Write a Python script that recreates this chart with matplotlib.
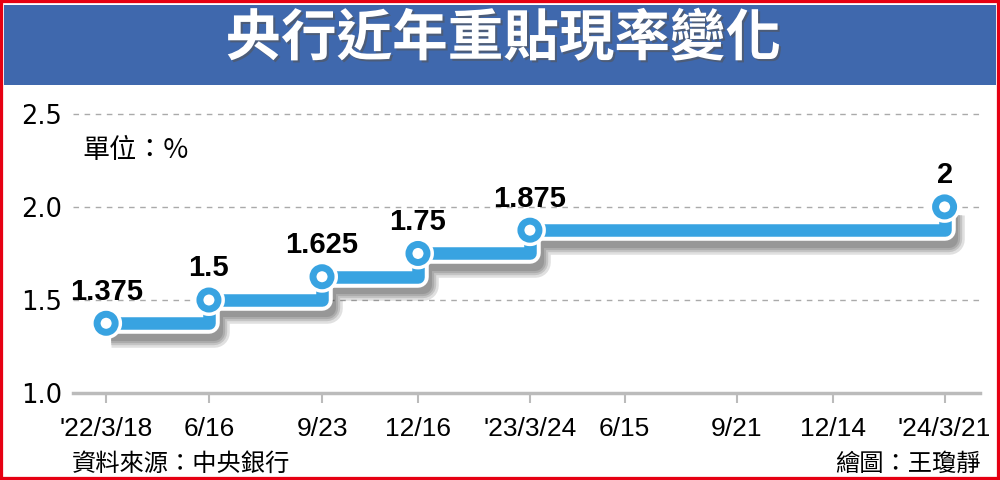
import pandas as pd
import numpy as np
import matplotlib
matplotlib.use('Agg')
import matplotlib.pyplot as plt
import matplotlib.patheffects as pe
from matplotlib.patches import Rectangle

#DATA
rate_dates = ['2022-03-18', '2022-06-16', '2022-09-23', '2022-12-16', '2023-03-24', '2024-03-21']
rates = [1.375, 1.5, 1.625, 1.75, 1.875, 2.0]
rate_labels = ['1.375', '1.5', '1.625', '1.75', '1.875', '2']

tick_dates = ['2022-03-18', '2022-06-16', '2022-09-23', '2022-12-16', '2023-03-24',
              '2023-06-15', '2023-09-21', '2023-12-14', '2024-03-21']
tick_labels = ["'22/3/18", '6/16', '9/23', '12/16', "'23/3/24", '6/15', '9/21', '12/14', "'24/3/21"]

y_ticks = [1.0, 1.5, 2.0, 2.5]

title = '央行近年重貼現率變化'
unit_text = '單位：%'
source_text = '資料來源：中央銀行'
credit_text = '繪圖：王瓊靜'

#STYLE
line_blue = '#38A3E1'
band_blue = '#3F68AD'
cjk = ['Noto Sans CJK TC', 'DejaVu Sans']
narrow = ['Liberation Sans Narrow', 'Liberation Sans', 'DejaVu Sans']
plt.rcParams['font.family'] = cjk

x = pd.to_datetime(rate_dates)
xt = pd.to_datetime(tick_dates)

fig = plt.figure(figsize=(10, 4.8), dpi=100)
fig.patch.set_facecolor('white')

#title band and red frame
fig.patches.append(Rectangle((0.004, 0.823), 0.992, 0.167, transform=fig.transFigure,
                             facecolor=band_blue, edgecolor='none', zorder=0))
fig.patches.append(Rectangle((0, 0), 1, 1, transform=fig.transFigure,
                             facecolor='none', edgecolor='#E60012', linewidth=4.5, zorder=10))
fig.text(0.503, 0.918, title, ha='center', va='center', color='white', fontsize=40,
         fontweight='bold', family=cjk,
         path_effects=[pe.withSimplePatchShadow(offset=(1.5, -1.5), shadow_rgbFace='#555555', alpha=0.6)])

ax = fig.add_axes([0.073, 0.181, 0.907, 0.613])
ax.set_xlim(pd.Timestamp('2022-02-17'), pd.Timestamp('2024-04-21'))
ax.set_ylim(1.0, 2.58)

#soft shadow made of a few wide faint layers
shadow = [pe.SimpleLineShadow(offset=(3.5, -6), shadow_color='black', alpha=0.12, linewidth=w)
          for w in (22, 19, 16, 13)]

#step line with white outline and shadow
ax.plot(x, rates, drawstyle='steps-post', color=line_blue, linewidth=9,
        solid_joinstyle='round', solid_capstyle='butt', zorder=3,
        path_effects=shadow + [pe.Stroke(linewidth=15.5, foreground='white'), pe.Normal()])
ax.plot(x, rates, 'o', markersize=13, markerfacecolor='white', markeredgecolor=line_blue,
        markeredgewidth=5, zorder=4,
        path_effects=[pe.Stroke(linewidth=10, foreground='white'), pe.Normal()])

for xi, yi, lab in zip(x, rates, rate_labels):
    ax.annotate(lab, (xi, yi), xytext=(0, 17), textcoords='offset points',
                ha='center', va='baseline', fontsize=21, fontweight='bold',
                family=['Liberation Sans', 'DejaVu Sans'], color='black', zorder=5)

#axes styling
ax.set_xticks(xt)
ax.set_xticklabels(tick_labels, family=narrow, fontsize=19)
ax.set_yticks(y_ticks)
ax.set_yticklabels(['%.1f' % v for v in y_ticks], family=['DejaVu Sans'], fontsize=18.5)
ax.tick_params(axis='x', length=7, width=1.5, color='#BBBBBB', pad=10)
ax.tick_params(axis='y', length=0, pad=8)
for s in ['top', 'right', 'left']:
    ax.spines[s].set_visible(False)
ax.spines['bottom'].set_color('#BBBBBB')
ax.spines['bottom'].set_linewidth(2.5)
ax.yaxis.grid(True, linestyle=(0, (4, 4)), color='#AAAAAA', linewidth=1)
ax.set_axisbelow(True)

fig.text(0.082, 1 - 151 / 480, unit_text, ha='left', va='center', fontsize=19.5, family=cjk)
fig.text(0.072, 1 - 464 / 480, source_text, ha='left', va='center', fontsize=17.5, family=cjk)
fig.text(0.981, 1 - 464 / 480, credit_text, ha='right', va='center', fontsize=17.5, family=cjk)

fig.savefig('out.png', dpi=100)
